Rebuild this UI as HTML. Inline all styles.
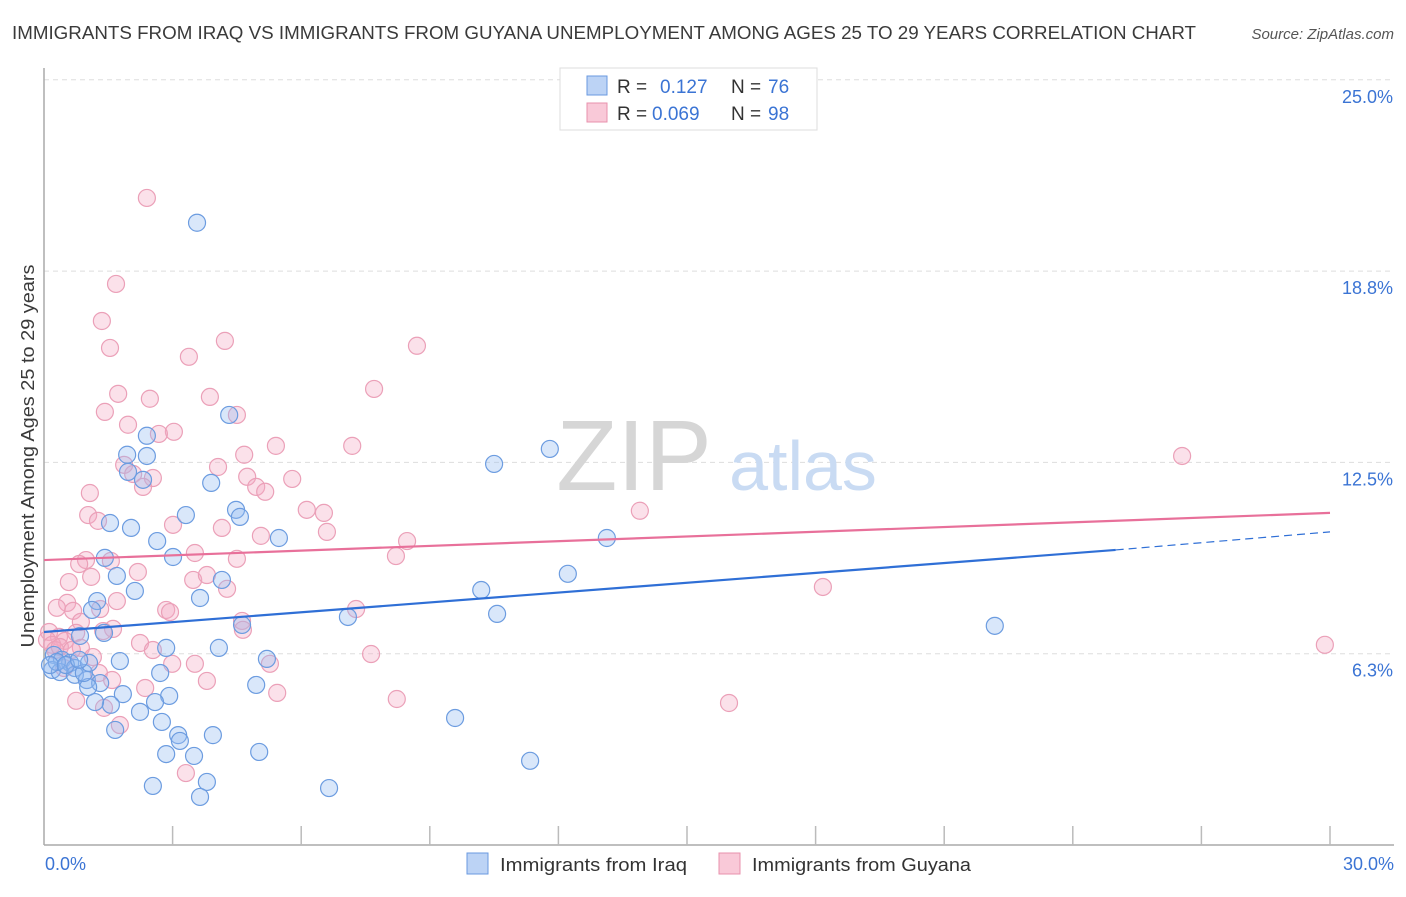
<!DOCTYPE html>
<html><head><meta charset="utf-8"><style>
body{margin:0;background:#fff;font-family:"Liberation Sans",sans-serif;}
svg text{font-family:"Liberation Sans",sans-serif;}
</style></head><body>
<svg id="chart" width="1406" height="892" xmlns="http://www.w3.org/2000/svg">
<text x="12" y="39" font-size="18" fill="#3a3a3a" textLength="1184" lengthAdjust="spacingAndGlyphs">IMMIGRANTS FROM IRAQ VS IMMIGRANTS FROM GUYANA UNEMPLOYMENT AMONG AGES 25 TO 29 YEARS CORRELATION CHART</text>
<text x="1394" y="39" font-size="15" font-style="italic" fill="#555" text-anchor="end">Source: ZipAtlas.com</text>
<g id="grid"></g>
<g>
<text x="634" y="490" font-size="100" font-family="Liberation Serif" fill="#d6d6d6" text-anchor="middle">ZIP</text>
<text x="803" y="490" font-size="70" fill="#c9dbf3" text-anchor="middle">atlas</text>
</g>
<g id="axes"></g>
<g id="pts"></g>
<g id="trends"></g>
<text transform="translate(34,456) rotate(-90)" font-size="18" fill="#3a3a3a" text-anchor="middle" textLength="383" lengthAdjust="spacingAndGlyphs">Unemployment Among Ages 25 to 29 years</text>
<g>
<rect x="560" y="68" width="257" height="62" fill="#fff" stroke="#ddd"/>
<rect x="587" y="76" width="20" height="19" fill="#bcd3f5" stroke="#6a9ae0"/>
<rect x="587" y="103" width="20" height="19" fill="#f9c9d8" stroke="#e891ad"/>
<text x="617" y="93" font-size="19" fill="#333">R =</text>
<text x="660" y="93" font-size="19" fill="#3b74d4">0.127</text>
<text x="731" y="93" font-size="19" fill="#333">N =</text>
<text x="768" y="93" font-size="19" fill="#3b74d4">76</text>
<text x="617" y="120" font-size="19" fill="#333">R =</text>
<text x="652" y="120" font-size="19" fill="#3b74d4">0.069</text>
<text x="731" y="120" font-size="19" fill="#333">N =</text>
<text x="768" y="120" font-size="19" fill="#3b74d4">98</text>
</g>
<g>
<rect x="467" y="853" width="21" height="21" fill="#bcd3f5" stroke="#6a9ae0"/>
<text x="500" y="871" font-size="18" fill="#333" textLength="187" lengthAdjust="spacingAndGlyphs">Immigrants from Iraq</text>
<rect x="719" y="853" width="21" height="21" fill="#f9c9d8" stroke="#e891ad"/>
<text x="752" y="871" font-size="18" fill="#333" textLength="219" lengthAdjust="spacingAndGlyphs">Immigrants from Guyana</text>
</g>
</svg>
<script>
const yTicks=[6.25,12.5,18.75,25];
const yTickLabels=["6.3%","12.5%","18.8%","25.0%"];
const xTickCount=10;
const xLabels=["0.0%","30.0%"];
const iraqX=[3.57,4.32,11.80,10.50,2.40,1.94,2.40,1.96,2.31,3.90,3.31,4.48,4.57,1.54,2.03,2.64,5.48,13.13,3.01,1.42,1.70,4.15,12.22,2.12,3.64,10.20,1.24,1.12,10.57,7.09,4.62,1.40,0.84,22.18,4.08,2.85,0.23,0.42,0.61,0.72,0.19,0.37,1.77,5.20,0.72,1.00,1.31,1.03,2.71,4.95,1.84,2.92,1.56,1.19,2.59,2.24,9.59,2.75,1.66,3.13,3.17,3.94,2.85,3.50,5.02,11.34,3.80,2.54,6.65,3.64,0.30,0.14,0.51,0.93,1.05,0.82];
const iraqY=[20.33,14.05,12.94,12.45,13.37,12.75,12.71,12.19,11.93,11.83,10.78,10.95,10.72,10.52,10.36,9.93,10.03,10.03,9.41,9.38,8.79,8.66,8.86,8.30,8.07,8.33,7.97,7.68,7.55,7.45,7.19,6.93,6.83,7.16,6.44,6.44,6.21,6.05,5.95,5.78,5.72,5.65,6.01,6.08,5.56,5.39,5.29,5.16,5.62,5.23,4.93,4.87,4.58,4.67,4.67,4.35,4.15,4.02,3.76,3.59,3.40,3.59,2.97,2.91,3.04,2.75,2.06,1.93,1.86,1.57,5.98,5.88,5.88,5.62,5.95,6.05];
const guyX=[2.40,1.68,1.35,1.54,4.22,3.38,8.70,7.70,1.73,3.87,2.47,1.42,4.50,1.96,3.03,2.68,5.41,7.19,4.67,4.06,1.87,2.08,4.74,2.54,2.31,4.95,5.16,5.79,1.07,6.13,6.53,1.03,1.26,13.90,3.01,4.15,5.06,6.60,8.47,26.55,8.21,0.98,1.56,3.52,4.50,0.82,2.19,1.10,3.48,3.80,0.58,4.27,18.17,1.70,0.54,0.30,1.31,0.68,2.85,2.94,4.62,7.28,4.64,0.86,1.61,0.75,1.38,0.12,0.35,0.07,0.49,2.24,0.86,0.19,2.54,2.99,3.52,5.27,3.80,7.63,1.28,1.59,2.36,5.44,0.75,8.23,1.40,1.77,3.31,15.98,29.88,0.26,0.47,1.14,0.37,0.65];
const guyY=[21.14,18.33,17.12,16.24,16.47,15.95,16.31,14.90,14.74,14.64,14.58,14.15,14.05,13.73,13.50,13.43,13.04,13.04,12.75,12.35,12.42,12.12,12.03,11.99,11.70,11.70,11.54,11.96,11.50,10.95,10.85,10.78,10.59,10.92,10.46,10.36,10.10,10.23,9.93,12.71,9.44,9.31,9.28,9.54,9.35,9.18,8.92,8.76,8.66,8.82,8.59,8.37,8.43,7.97,7.91,7.75,7.71,7.65,7.68,7.61,7.32,7.71,7.03,7.29,7.06,6.93,6.99,6.96,6.80,6.70,6.67,6.60,6.44,6.54,6.37,5.92,5.92,5.92,5.36,6.24,5.62,5.39,5.13,4.97,4.71,4.77,4.48,3.92,2.35,4.64,6.54,6.37,5.78,6.14,6.47,6.37];
const iraqTrend=[6.96,9.64,10.23]; // at x=0, 25, 30
const guyTrend=[9.31,10.85]; // at x=0, 30
const X0=44,X1=1330,Y0=845,PX=(X1-X0)/30,PY=191.3/6.25;
const sx=v=>X0+v*PX, sy=v=>Y0-v*PY;
const NS="http://www.w3.org/2000/svg";
function mk(tag,attrs,parent){const e=document.createElementNS(NS,tag);for(const k in attrs)e.setAttribute(k,attrs[k]);parent.appendChild(e);return e;}
const grid=document.getElementById('grid'),axes=document.getElementById('axes'),pts=document.getElementById('pts'),tr=document.getElementById('trends');
yTicks.forEach((t,i)=>{
 const l=mk('line',{x1:X0,x2:1394,y1:sy(t),y2:sy(t),stroke:'#ddd','stroke-dasharray':'5,4'},grid);
 
 
 const tx=mk('text',{x:1393,y:sy(t)+23,'font-size':18,fill:'#3b74d4','text-anchor':'end'},grid);
 tx.textContent=yTickLabels[i];
 
 
});
const ya=mk('line',{x1:X0,x2:X0,y1:68,y2:Y0,stroke:'#aaa','stroke-width':1.5},axes);


const xa=mk('line',{x1:X0,x2:1394,y1:Y0,y2:Y0,stroke:'#aaa','stroke-width':1.5},axes);


for(let i=1;i<=xTickCount;i++){
 const t=mk('line',{x1:sx(i*3),x2:sx(i*3),y1:826,y2:Y0,stroke:'#bbb','stroke-width':1.5},axes);
 
 
}
const xl0=mk('text',{x:45,y:870,'font-size':18,fill:'#3b74d4'},axes);xl0.textContent=xLabels[0];


const xl1=mk('text',{x:1394,y:870,'font-size':18,fill:'#3b74d4','text-anchor':'end'},axes);xl1.textContent=xLabels[1];


guyX.forEach((v,i)=>{
 const c=mk('circle',{cx:sx(v),cy:sy(guyY[i]),r:8.5,fill:'rgba(244,170,195,0.35)',stroke:'#eba0b8','stroke-width':1.2},pts);
 
 
});
iraqX.forEach((v,i)=>{
 const c=mk('circle',{cx:sx(v),cy:sy(iraqY[i]),r:8.5,fill:'rgba(147,186,240,0.35)',stroke:'#6c9ce0','stroke-width':1.2},pts);
 
 
});
const pl=mk('line',{x1:sx(0),y1:sy(guyTrend[0]),x2:sx(30),y2:sy(guyTrend[1]),stroke:'#e8709a','stroke-width':2.2},tr);


const bl=mk('line',{x1:sx(0),y1:sy(iraqTrend[0]),x2:sx(25),y2:sy(iraqTrend[1]),stroke:'#2f6fd6','stroke-width':2.2},tr);


const bd=mk('line',{x1:sx(25),y1:sy(iraqTrend[1]),x2:sx(30),y2:sy(iraqTrend[2]),stroke:'#2f6fd6','stroke-width':1.2,'stroke-dasharray':'8,5'},tr);


</script>
</body></html>
